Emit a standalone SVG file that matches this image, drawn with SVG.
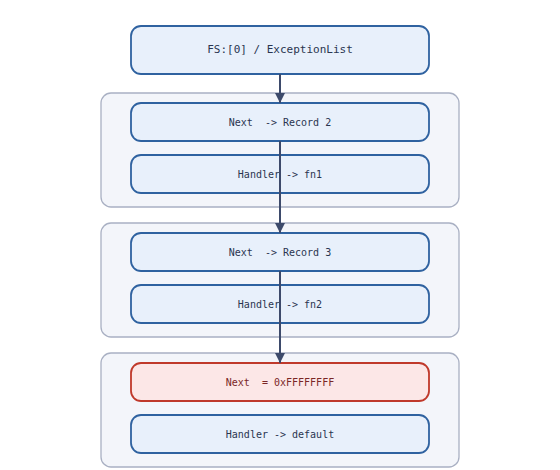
<svg xmlns="http://www.w3.org/2000/svg" width="560" height="470" viewBox="0 0 560 470">
<defs>
<style>
.grp{fill:#f3f5fa;stroke:#a9b0c3;stroke-width:1.3}
.node{fill:#e8f0fb;stroke:#2f62a0;stroke-width:1.8}
.term{fill:#fce7e7;stroke:#c0392b;stroke-width:1.8}
.t{font-family:"DejaVu Sans Mono","Liberation Mono",monospace;font-size:10px;fill:#2a3550;text-anchor:middle;dominant-baseline:central;white-space:pre}
.tt{font-size:11px}
.tr{fill:#7a2626}
.edge{stroke:#3d4a6b;stroke-width:2;fill:none}
</style>
<marker id="ah" viewBox="0 0 10 10" refX="10" refY="5" markerWidth="10" markerHeight="10" markerUnits="userSpaceOnUse" orient="auto">
<path d="M0,0 L10,5 L0,10 Z" fill="#3d4a6b"/>
</marker>
</defs>
<rect width="560" height="470" fill="#ffffff"/>
<g id="record1">
<rect class="grp" x="101" y="93" width="358" height="114" rx="10"/>
</g>
<g id="record2">
<rect class="grp" x="101" y="223" width="358" height="114" rx="10"/>
</g>
<g id="record3">
<rect class="grp" x="101" y="353" width="358" height="114" rx="10"/>
</g>
<g id="head">
<rect class="node" x="131" y="26" width="298" height="48" rx="10"/>
<text class="t tt" x="280" y="49.5" xml:space="preserve">FS:[0] / ExceptionList</text>
</g>
<g id="next1">
<rect class="node" x="131" y="103" width="298" height="38" rx="10"/>
<text class="t" x="280" y="122" xml:space="preserve">Next  -&gt; Record 2</text>
</g>
<g id="handler1">
<rect class="node" x="131" y="155" width="298" height="38" rx="10"/>
<text class="t" x="280" y="174" xml:space="preserve">Handler -&gt; fn1</text>
</g>
<g id="next2">
<rect class="node" x="131" y="233" width="298" height="38" rx="10"/>
<text class="t" x="280" y="252" xml:space="preserve">Next  -&gt; Record 3</text>
</g>
<g id="handler2">
<rect class="node" x="131" y="285" width="298" height="38" rx="10"/>
<text class="t" x="280" y="304" xml:space="preserve">Handler -&gt; fn2</text>
</g>
<g id="next3">
<rect class="term" x="131" y="363" width="298" height="38" rx="10"/>
<text class="t tr" x="280" y="382" xml:space="preserve">Next  = 0xFFFFFFFF</text>
</g>
<g id="handler3">
<rect class="node" x="131" y="415" width="298" height="38" rx="10"/>
<text class="t" x="280" y="434" xml:space="preserve">Handler -&gt; default</text>
</g>
<g id="connectors">
<line class="edge" x1="280" y1="74" x2="280" y2="103" marker-end="url(#ah)"/>
<line class="edge" x1="280" y1="141" x2="280" y2="233" marker-end="url(#ah)"/>
<line class="edge" x1="280" y1="271" x2="280" y2="363" marker-end="url(#ah)"/>
</g>
</svg>
